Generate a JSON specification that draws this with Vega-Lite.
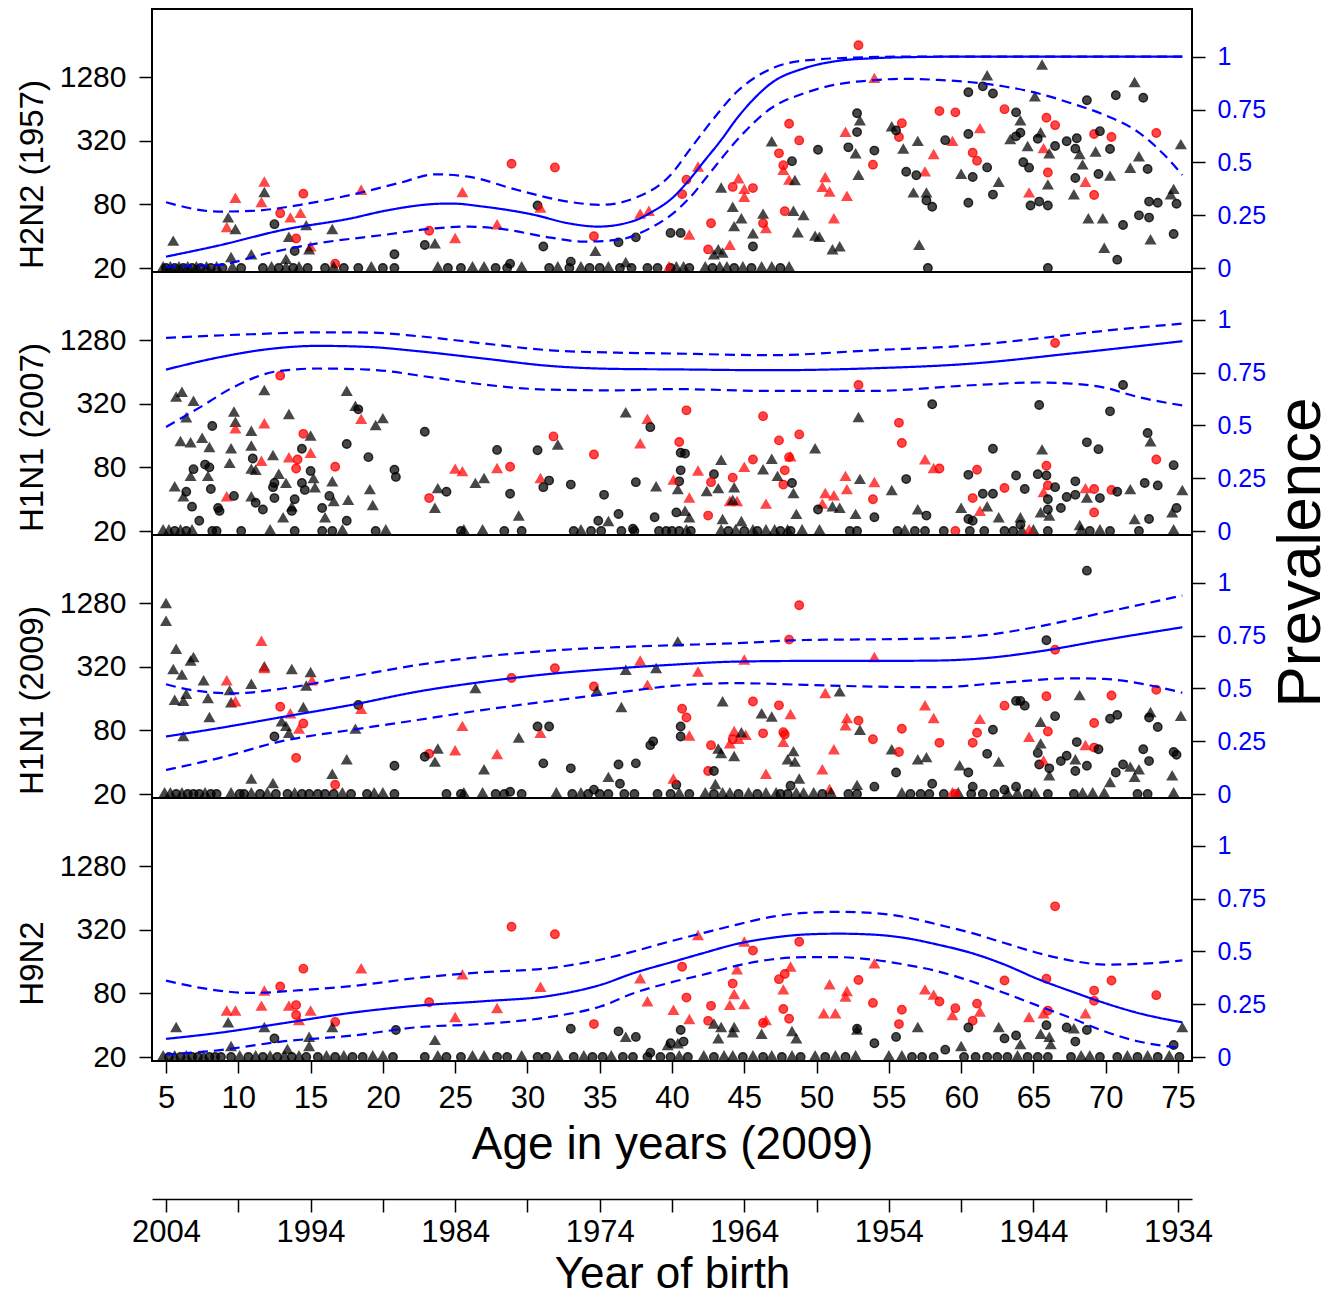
{
"$schema":"https://vega.github.io/schema/vega-lite/v6.json",
"background":"white",
"padding":{"left":15,"top":8,"right":5,"bottom":6},
"bounds":"flush",
"spacing":0,
"config":{
 "font":"Liberation Sans",
 "view":{"stroke":"black","strokeWidth":2},
 "axis":{"grid":false,"domain":false,"tickColor":"black","tickWidth":1.5,"tickSize":13,"labelColor":"black","titleColor":"black","titleFontWeight":"normal","labelOverlap":false,"labelFlush":false,"labelFont":"Liberation Sans","titleFont":"Liberation Sans"}
},
"datasets":{
"pts":[
{"p":1,"a":5.5,"v":35,"g":"kt"},{"p":1,"a":9.8,"v":89,"g":"rt"},{"p":1,"a":11.8,"v":127,"g":"rt"},{"p":1,"a":11.8,"v":101,"g":"kt"},{"p":1,"a":11.6,"v":81,"g":"rt"},{"p":1,"a":9.3,"v":58,"g":"kt"},{"p":1,"a":9.2,"v":47,"g":"rt"},{"p":1,"a":9.8,"v":45,"g":"kt"},{"p":1,"a":12.9,"v":66,"g":"rc"},{"p":1,"a":14.5,"v":101,"g":"rc"},{"p":1,"a":13.6,"v":58,"g":"rt"},{"p":1,"a":14.3,"v":64,"g":"rt"},{"p":1,"a":12.5,"v":52,"g":"kc"},{"p":1,"a":14.7,"v":49,"g":"kt"},{"p":1,"a":13.5,"v":38,"g":"kt"},{"p":1,"a":14.0,"v":38,"g":"rc"},{"p":1,"a":13.9,"v":29,"g":"kc"},{"p":1,"a":15.0,"v":31,"g":"rt"},{"p":1,"a":14.9,"v":29,"g":"kt"},{"p":1,"a":16.5,"v":45,"g":"kt"},{"p":1,"a":18.5,"v":106,"g":"rt"},{"p":1,"a":16.7,"v":22,"g":"rc"},{"p":1,"a":20.8,"v":27,"g":"kc"},{"p":1,"a":9.5,"v":24.5,"g":"kt"},{"p":1,"a":10.9,"v":26,"g":"kt"},{"p":1,"a":13.3,"v":23.5,"g":"kt"},{"p":1,"a":23.2,"v":45,"g":"rc"},{"p":1,"a":22.9,"v":33,"g":"kc"},{"p":1,"a":23.6,"v":33,"g":"kt"},{"p":1,"a":25.5,"v":101,"g":"rt"},{"p":1,"a":25.0,"v":37,"g":"rt"},{"p":1,"a":28.9,"v":194,"g":"rc"},{"p":1,"a":31.9,"v":179,"g":"rc"},{"p":1,"a":30.7,"v":78,"g":"kc"},{"p":1,"a":30.9,"v":72,"g":"rt"},{"p":1,"a":27.9,"v":50,"g":"rt"},{"p":1,"a":31.1,"v":32,"g":"kc"},{"p":1,"a":28.8,"v":22,"g":"kc"},{"p":1,"a":33.0,"v":23,"g":"kc"},{"p":1,"a":34.6,"v":40,"g":"rc"},{"p":1,"a":34.7,"v":28,"g":"kt"},{"p":1,"a":36.8,"v":22,"g":"kt"},{"p":1,"a":36.3,"v":35,"g":"kc"},{"p":1,"a":37.5,"v":39,"g":"kc"},{"p":1,"a":37.8,"v":63,"g":"rt"},{"p":1,"a":38.4,"v":67,"g":"rt"},{"p":1,"a":39.9,"v":43,"g":"kc"},
{"p":1,"a":52.9,"v":2560,"g":"rc"},{"p":1,"a":54.0,"v":1210,"g":"rt"},{"p":1,"a":61.8,"v":1280,"g":"kt"},{"p":1,"a":61.5,"v":1045,"g":"kc"},{"p":1,"a":60.5,"v":918,"g":"kc"},{"p":1,"a":62.2,"v":893,"g":"kc"},{"p":1,"a":65.6,"v":1620,"g":"kt"},{"p":1,"a":65.1,"v":810,"g":"kt"},{"p":1,"a":68.7,"v":772,"g":"kc"},{"p":1,"a":70.7,"v":862,"g":"kc"},{"p":1,"a":72.0,"v":1107,"g":"kt"},{"p":1,"a":72.6,"v":816,"g":"kc"},{"p":1,"a":58.5,"v":610,"g":"rc"},{"p":1,"a":59.6,"v":593,"g":"rc"},{"p":1,"a":63.0,"v":636,"g":"rc"},{"p":1,"a":63.8,"v":593,"g":"kc"},{"p":1,"a":64.1,"v":481,"g":"kt"},{"p":1,"a":64.1,"v":381,"g":"kc"},{"p":1,"a":63.8,"v":352,"g":"kc"},{"p":1,"a":63.4,"v":320,"g":"kt"},{"p":1,"a":65.5,"v":370,"g":"kt"},{"p":1,"a":65.9,"v":527,"g":"rc"},{"p":1,"a":66.5,"v":449,"g":"rc"},{"p":1,"a":65.3,"v":334,"g":"kc"},{"p":1,"a":66.5,"v":285,"g":"kc"},{"p":1,"a":65.7,"v":262,"g":"rt"},{"p":1,"a":66.1,"v":234,"g":"kt"},{"p":1,"a":64.6,"v":275,"g":"kt"},{"p":1,"a":69.2,"v":370,"g":"rc"},{"p":1,"a":69.6,"v":394,"g":"kc"},{"p":1,"a":70.4,"v":347,"g":"rc"},{"p":1,"a":67.3,"v":316,"g":"kc"},{"p":1,"a":68.0,"v":338,"g":"kc"},{"p":1,"a":67.9,"v":269,"g":"kc"},{"p":1,"a":68.2,"v":231,"g":"kt"},{"p":1,"a":69.3,"v":244,"g":"kt"},{"p":1,"a":70.3,"v":267,"g":"kc"},{"p":1,"a":73.5,"v":378,"g":"rc"},{"p":1,"a":75.2,"v":286,"g":"kt"},{"p":1,"a":72.3,"v":220,"g":"kt"},{"p":1,"a":71.7,"v":171,"g":"kt"},{"p":1,"a":72.9,"v":173,"g":"kc"},{"p":1,"a":68.4,"v":184,"g":"kt"},{"p":1,"a":69.5,"v":155,"g":"kc"},{"p":1,"a":70.3,"v":144,"g":"kt"},{"p":1,"a":67.9,"v":142,"g":"kc"},{"p":1,"a":68.6,"v":126,"g":"rt"},{"p":1,"a":69.2,"v":98,"g":"rc"},{"p":1,"a":67.8,"v":96,"g":"kt"},{"p":1,"a":74.7,"v":108,"g":"kt"},{"p":1,"a":74.5,"v":96,"g":"kt"},{"p":1,"a":74.9,"v":81,"g":"kc"},{"p":1,"a":73.0,"v":85,"g":"kc"},{"p":1,"a":73.6,"v":83,"g":"kc"},{"p":1,"a":68.8,"v":57,"g":"kt"},{"p":1,"a":69.8,"v":57,"g":"kt"},{"p":1,"a":72.3,"v":63,"g":"kc"},{"p":1,"a":73.0,"v":60,"g":"kc"},{"p":1,"a":71.2,"v":51,"g":"kc"},{"p":1,"a":73.1,"v":36,"g":"kt"},{"p":1,"a":69.9,"v":30,"g":"kt"},{"p":1,"a":70.8,"v":24,"g":"kc"},{"p":1,"a":74.7,"v":42,"g":"kc"},{"p":1,"a":57.1,"v":32,"g":"kt"},{"p":1,"a":66.0,"v":160,"g":"rc"},{"p":1,"a":66.0,"v":119,"g":"kt"},{"p":1,"a":64.7,"v":100,"g":"rt"},{"p":1,"a":64.8,"v":78,"g":"kc"},{"p":1,"a":65.4,"v":85,"g":"kc"},{"p":1,"a":66.0,"v":78,"g":"kc"},{"p":1,"a":64.3,"v":200,"g":"kc"},{"p":1,"a":64.7,"v":178,"g":"kc"},{"p":1,"a":62.2,"v":99,"g":"kc"},{"p":1,"a":62.6,"v":126,"g":"kt"},{"p":1,"a":60.8,"v":145,"g":"kc"},{"p":1,"a":60.0,"v":150,"g":"kt"},{"p":1,"a":61.8,"v":179,"g":"kc"},{"p":1,"a":60.5,"v":83,"g":"kc"},{"p":1,"a":60.8,"v":246,"g":"rc"},{"p":1,"a":61.1,"v":207,"g":"rc"},{"p":1,"a":61.3,"v":405,"g":"rt"},{"p":1,"a":60.5,"v":370,"g":"kc"},{"p":1,"a":59.4,"v":307,"g":"rt"},{"p":1,"a":58.9,"v":324,"g":"kc"},{"p":1,"a":57.0,"v":307,"g":"kt"},{"p":1,"a":58.1,"v":231,"g":"rt"},{"p":1,"a":57.5,"v":158,"g":"rt"},{"p":1,"a":56.2,"v":163,"g":"kc"},{"p":1,"a":56.9,"v":151,"g":"kc"},{"p":1,"a":56.7,"v":100,"g":"kt"},{"p":1,"a":57.6,"v":100,"g":"kt"},{"p":1,"a":57.6,"v":87,"g":"kc"},{"p":1,"a":58.0,"v":76,"g":"kc"},{"p":1,"a":56.0,"v":260,"g":"kt"},{"p":1,"a":55.9,"v":469,"g":"rc"},{"p":1,"a":55.7,"v":347,"g":"rc"},{"p":1,"a":55.2,"v":422,"g":"kt"},{"p":1,"a":55.5,"v":400,"g":"kc"},{"p":1,"a":54.0,"v":258,"g":"kc"},{"p":1,"a":53.9,"v":190,"g":"rc"},{"p":1,"a":52.9,"v":147,"g":"kt"},{"p":1,"a":52.7,"v":234,"g":"kt"},{"p":1,"a":52.2,"v":277,"g":"kc"},{"p":1,"a":52.8,"v":386,"g":"kc"},{"p":1,"a":53.0,"v":481,"g":"kt"},{"p":1,"a":52.8,"v":581,"g":"kc"},{"p":1,"a":52.0,"v":375,"g":"rt"},{"p":1,"a":50.1,"v":263,"g":"kc"},{"p":1,"a":50.6,"v":140,"g":"rt"},{"p":1,"a":50.4,"v":113,"g":"rt"},{"p":1,"a":50.9,"v":102,"g":"rt"},{"p":1,"a":52.1,"v":93,"g":"rt"},{"p":1,"a":51.2,"v":57,"g":"rt"},{"p":1,"a":51.1,"v":29,"g":"kt"},{"p":1,"a":51.6,"v":31,"g":"kt"},{"p":1,"a":48.3,"v":205,"g":"kc"},{"p":1,"a":48.1,"v":463,"g":"rc"},{"p":1,"a":48.8,"v":322,"g":"rc"},{"p":1,"a":47.4,"v":243,"g":"rc"},{"p":1,"a":47.7,"v":188,"g":"rc"},{"p":1,"a":47.7,"v":164,"g":"rt"},{"p":1,"a":48.1,"v":132,"g":"rt"},{"p":1,"a":48.5,"v":131,"g":"kt"},{"p":1,"a":47.8,"v":69,"g":"rc"},{"p":1,"a":48.4,"v":67,"g":"kt"},{"p":1,"a":49.1,"v":61,"g":"kt"},{"p":1,"a":48.7,"v":42,"g":"kt"},{"p":1,"a":49.9,"v":39,"g":"kt"},{"p":1,"a":50.2,"v":38,"g":"kt"},{"p":1,"a":46.9,"v":305,"g":"kt"},{"p":1,"a":45.6,"v":114,"g":"rc"},{"p":1,"a":44.6,"v":136,"g":"rt"},{"p":1,"a":44.2,"v":117,"g":"rc"},{"p":1,"a":45.0,"v":108,"g":"rt"},{"p":1,"a":45.0,"v":91,"g":"rt"},{"p":1,"a":43.4,"v":111,"g":"kt"},{"p":1,"a":44.2,"v":73,"g":"kt"},{"p":1,"a":44.8,"v":57,"g":"kt"},{"p":1,"a":44.3,"v":48,"g":"kt"},{"p":1,"a":46.3,"v":53,"g":"rc"},{"p":1,"a":46.5,"v":46,"g":"rt"},{"p":1,"a":46.3,"v":63,"g":"kt"},{"p":1,"a":45.6,"v":41,"g":"kt"},{"p":1,"a":45.6,"v":32,"g":"kc"},{"p":1,"a":42.7,"v":53,"g":"rc"},{"p":1,"a":44.0,"v":32,"g":"rt"},{"p":1,"a":42.5,"v":30,"g":"rc"},{"p":1,"a":40.6,"v":43,"g":"kc"},{"p":1,"a":41.2,"v":40,"g":"rt"},{"p":1,"a":43.2,"v":29,"g":"kt"},{"p":1,"a":42.9,"v":26,"g":"kt"},{"p":1,"a":43.5,"v":27,"g":"kt"},{"p":1,"a":40.7,"v":100,"g":"rc"},{"p":1,"a":41.0,"v":137,"g":"rc"},{"p":1,"a":41.8,"v":176,"g":"rt"},
{"p":1,"a":4.8,"v":20,"g":"kt"},{"p":1,"a":5.0,"v":20,"g":"kc"},{"p":1,"a":5.3,"v":20,"g":"kt"},{"p":1,"a":5.6,"v":20,"g":"kc"},{"p":1,"a":5.9,"v":20,"g":"kt"},{"p":1,"a":6.2,"v":20,"g":"kc"},{"p":1,"a":6.5,"v":20,"g":"kt"},{"p":1,"a":6.8,"v":20,"g":"kc"},{"p":1,"a":7.1,"v":20,"g":"kt"},{"p":1,"a":7.4,"v":20,"g":"kc"},{"p":1,"a":7.8,"v":20,"g":"kt"},{"p":1,"a":8.1,"v":20,"g":"kc"},{"p":1,"a":8.5,"v":20,"g":"kt"},{"p":1,"a":8.9,"v":20,"g":"kc"},{"p":1,"a":9.6,"v":20,"g":"kt"},{"p":1,"a":10.2,"v":20,"g":"kc"},{"p":1,"a":11.7,"v":20,"g":"kc"},{"p":1,"a":12.3,"v":20,"g":"kt"},{"p":1,"a":12.8,"v":20,"g":"kc"},{"p":1,"a":13.3,"v":20,"g":"kt"},{"p":1,"a":13.8,"v":20,"g":"kc"},{"p":1,"a":14.2,"v":20,"g":"kt"},{"p":1,"a":14.8,"v":20,"g":"kc"},{"p":1,"a":16.0,"v":20,"g":"kc"},{"p":1,"a":16.6,"v":20,"g":"kt"},{"p":1,"a":17.3,"v":20,"g":"kc"},{"p":1,"a":18.3,"v":20,"g":"kc"},{"p":1,"a":19.2,"v":20,"g":"kt"},{"p":1,"a":20.0,"v":20,"g":"kc"},{"p":1,"a":20.8,"v":20,"g":"kc"},{"p":1,"a":23.8,"v":20,"g":"kt"},{"p":1,"a":24.5,"v":20,"g":"kc"},{"p":1,"a":25.4,"v":20,"g":"kc"},{"p":1,"a":26.2,"v":20,"g":"kt"},{"p":1,"a":27.0,"v":20,"g":"kt"},{"p":1,"a":27.8,"v":20,"g":"kc"},{"p":1,"a":28.6,"v":20,"g":"kc"},{"p":1,"a":29.6,"v":20,"g":"kt"},{"p":1,"a":31.5,"v":20,"g":"kc"},{"p":1,"a":32.1,"v":20,"g":"kt"},{"p":1,"a":32.9,"v":20,"g":"kc"},{"p":1,"a":33.7,"v":20,"g":"kt"},{"p":1,"a":34.3,"v":20,"g":"kc"},{"p":1,"a":35.0,"v":20,"g":"kc"},{"p":1,"a":35.6,"v":20,"g":"kt"},{"p":1,"a":36.4,"v":20,"g":"kc"},{"p":1,"a":37.2,"v":20,"g":"kc"},{"p":1,"a":38.3,"v":20,"g":"kc"},{"p":1,"a":39.0,"v":20,"g":"kc"},{"p":1,"a":39.9,"v":20,"g":"kc"},{"p":1,"a":39.8,"v":20,"g":"rt"},{"p":1,"a":40.3,"v":20,"g":"kt"},{"p":1,"a":40.8,"v":20,"g":"kt"},{"p":1,"a":41.2,"v":20,"g":"kc"},{"p":1,"a":42.3,"v":20,"g":"kt"},{"p":1,"a":42.8,"v":20,"g":"kc"},{"p":1,"a":43.3,"v":20,"g":"kt"},{"p":1,"a":43.8,"v":20,"g":"kt"},{"p":1,"a":44.3,"v":20,"g":"kc"},{"p":1,"a":44.9,"v":20,"g":"kt"},{"p":1,"a":45.5,"v":20,"g":"kc"},{"p":1,"a":46.2,"v":20,"g":"kt"},{"p":1,"a":46.9,"v":20,"g":"kt"},{"p":1,"a":47.5,"v":20,"g":"kc"},{"p":1,"a":48.1,"v":20,"g":"kt"},{"p":1,"a":57.7,"v":20,"g":"kc"},{"p":1,"a":66.0,"v":20,"g":"kc"},
{"p":2,"a":12.9,"v":589,"g":"rc"},{"p":2,"a":6.1,"v":400,"g":"kt"},{"p":2,"a":5.7,"v":360,"g":"kt"},{"p":2,"a":6.9,"v":329,"g":"kt"},{"p":2,"a":11.8,"v":416,"g":"kt"},{"p":2,"a":17.5,"v":408,"g":"kt"},{"p":2,"a":18.1,"v":295,"g":"kt"},{"p":2,"a":18.3,"v":283,"g":"kc"},{"p":2,"a":9.7,"v":260,"g":"kt"},{"p":2,"a":6.4,"v":229,"g":"kt"},{"p":2,"a":9.8,"v":208,"g":"kt"},{"p":2,"a":11.8,"v":201,"g":"rt"},{"p":2,"a":9.8,"v":180,"g":"rt"},{"p":2,"a":13.5,"v":246,"g":"kt"},{"p":2,"a":8.2,"v":197,"g":"kc"},{"p":2,"a":10.9,"v":171,"g":"kt"},{"p":2,"a":18.5,"v":222,"g":"rt"},{"p":2,"a":20.0,"v":225,"g":"kt"},{"p":2,"a":19.5,"v":194,"g":"kt"},{"p":2,"a":22.9,"v":174,"g":"kc"},{"p":2,"a":14.5,"v":166,"g":"rc"},{"p":2,"a":15.0,"v":154,"g":"kt"},{"p":2,"a":17.5,"v":133,"g":"kc"},{"p":2,"a":6.0,"v":137,"g":"kt"},{"p":2,"a":6.7,"v":133,"g":"kt"},{"p":2,"a":7.5,"v":147,"g":"kt"},{"p":2,"a":8.0,"v":120,"g":"kt"},{"p":2,"a":9.5,"v":117,"g":"kt"},{"p":2,"a":10.9,"v":124,"g":"kt"},{"p":2,"a":14.4,"v":120,"g":"kc"},{"p":2,"a":15.0,"v":106,"g":"rt"},{"p":2,"a":12.4,"v":101,"g":"kt"},{"p":2,"a":13.5,"v":96,"g":"rt"},{"p":2,"a":14.1,"v":95,"g":"rc"},{"p":2,"a":11.6,"v":89,"g":"rt"},{"p":2,"a":14.0,"v":78,"g":"rc"},{"p":2,"a":11.0,"v":97,"g":"kc"},{"p":2,"a":9.4,"v":85,"g":"kt"},{"p":2,"a":7.7,"v":85,"g":"kc"},{"p":2,"a":8.0,"v":80,"g":"kc"},{"p":2,"a":6.9,"v":77,"g":"kc"},{"p":2,"a":10.9,"v":75,"g":"kt"},{"p":2,"a":11.2,"v":73,"g":"kt"},{"p":2,"a":15.0,"v":74,"g":"kc"},{"p":2,"a":12.8,"v":67,"g":"kt"},{"p":2,"a":6.7,"v":64,"g":"kt"},{"p":2,"a":7.9,"v":64,"g":"kt"},{"p":2,"a":12.5,"v":57,"g":"kc"},{"p":2,"a":13.3,"v":55,"g":"kt"},{"p":2,"a":14.4,"v":57,"g":"kc"},{"p":2,"a":15.2,"v":61,"g":"kt"},{"p":2,"a":16.5,"v":57,"g":"kt"},{"p":2,"a":12.4,"v":52,"g":"kc"},{"p":2,"a":14.6,"v":49,"g":"kc"},{"p":2,"a":15.3,"v":50,"g":"kt"},{"p":2,"a":8.1,"v":50,"g":"kc"},{"p":2,"a":6.4,"v":47,"g":"kc"},{"p":2,"a":5.6,"v":51,"g":"kt"},{"p":2,"a":6.2,"v":41,"g":"kt"},{"p":2,"a":9.2,"v":41,"g":"rt"},{"p":2,"a":9.7,"v":43,"g":"kc"},{"p":2,"a":10.9,"v":41,"g":"kt"},{"p":2,"a":11.2,"v":37,"g":"kc"},{"p":2,"a":12.5,"v":41,"g":"kc"},{"p":2,"a":13.9,"v":40,"g":"kc"},{"p":2,"a":11.7,"v":32,"g":"kc"},{"p":2,"a":6.8,"v":34,"g":"kc"},{"p":2,"a":8.6,"v":33,"g":"kc"},{"p":2,"a":8.7,"v":31,"g":"kc"},{"p":2,"a":13.7,"v":33,"g":"kt"},{"p":2,"a":13.7,"v":31,"g":"kc"},{"p":2,"a":13.1,"v":26,"g":"kt"},{"p":2,"a":7.3,"v":25,"g":"kc"},{"p":2,"a":16.3,"v":43,"g":"kc"},{"p":2,"a":16.6,"v":37,"g":"kt"},{"p":2,"a":17.6,"v":38,"g":"kt"},{"p":2,"a":15.8,"v":33,"g":"kc"},{"p":2,"a":16.0,"v":26,"g":"kt"},{"p":2,"a":17.5,"v":25,"g":"kc"},{"p":2,"a":16.7,"v":81,"g":"rc"},{"p":2,"a":19.0,"v":100,"g":"kc"},{"p":2,"a":20.8,"v":76,"g":"kc"},{"p":2,"a":20.9,"v":65,"g":"kc"},{"p":2,"a":19.1,"v":48,"g":"kt"},{"p":2,"a":19.3,"v":34,"g":"kt"},{"p":2,"a":23.8,"v":49,"g":"kt"},{"p":2,"a":24.4,"v":47,"g":"kc"},{"p":2,"a":23.2,"v":41,"g":"rc"},{"p":2,"a":23.6,"v":32,"g":"kt"},{"p":2,"a":25.0,"v":75,"g":"rt"},{"p":2,"a":25.5,"v":71,"g":"rt"},{"p":2,"a":26.4,"v":55,"g":"kt"},{"p":2,"a":27.0,"v":61,"g":"kt"},{"p":2,"a":27.9,"v":76,"g":"rt"},{"p":2,"a":28.8,"v":81,"g":"rc"},{"p":2,"a":27.9,"v":117,"g":"kc"},{"p":2,"a":28.8,"v":45,"g":"kc"},{"p":2,"a":29.4,"v":27,"g":"kt"},{"p":2,"a":31.8,"v":157,"g":"rc"},{"p":2,"a":32.1,"v":127,"g":"kt"},{"p":2,"a":30.7,"v":116,"g":"kc"},{"p":2,"a":30.9,"v":61,"g":"rt"},{"p":2,"a":31.5,"v":60,"g":"kc"},{"p":2,"a":31.1,"v":52,"g":"kc"},{"p":2,"a":33.0,"v":55,"g":"kc"},{"p":2,"a":34.6,"v":106,"g":"rc"},{"p":2,"a":35.3,"v":44,"g":"kc"},{"p":2,"a":36.3,"v":29,"g":"kc"},{"p":2,"a":35.6,"v":24,"g":"kt"},{"p":2,"a":34.9,"v":25,"g":"kc"},{"p":2,"a":36.8,"v":256,"g":"kt"},{"p":2,"a":38.3,"v":222,"g":"rt"},{"p":2,"a":38.5,"v":192,"g":"kc"},{"p":2,"a":37.8,"v":130,"g":"rt"},{"p":2,"a":40.5,"v":139,"g":"rc"},{"p":2,"a":37.5,"v":58,"g":"kc"},{"p":2,"a":38.9,"v":51,"g":"kt"},{"p":2,"a":38.8,"v":27,"g":"kc"},{"p":2,"a":37.3,"v":21,"g":"kc"},
{"p":2,"a":66.5,"v":1200,"g":"rc"},{"p":2,"a":52.9,"v":481,"g":"rc"},{"p":2,"a":71.2,"v":481,"g":"kc"},{"p":2,"a":58.0,"v":316,"g":"kc"},{"p":2,"a":65.4,"v":311,"g":"kc"},{"p":2,"a":70.3,"v":271,"g":"kc"},{"p":2,"a":41.0,"v":277,"g":"rc"},{"p":2,"a":46.3,"v":244,"g":"rc"},{"p":2,"a":55.7,"v":211,"g":"rc"},{"p":2,"a":55.9,"v":136,"g":"rc"},{"p":2,"a":52.9,"v":231,"g":"kt"},{"p":2,"a":48.8,"v":164,"g":"rc"},{"p":2,"a":47.4,"v":144,"g":"rc"},{"p":2,"a":49.9,"v":117,"g":"kt"},{"p":2,"a":72.9,"v":169,"g":"kc"},{"p":2,"a":73.1,"v":136,"g":"kt"},{"p":2,"a":68.7,"v":138,"g":"kc"},{"p":2,"a":69.5,"v":119,"g":"kc"},{"p":2,"a":62.2,"v":120,"g":"kc"},{"p":2,"a":65.6,"v":114,"g":"kt"},{"p":2,"a":40.6,"v":110,"g":"kc"},{"p":2,"a":40.9,"v":108,"g":"kc"},{"p":2,"a":43.4,"v":91,"g":"kt"},{"p":2,"a":45.6,"v":95,"g":"rc"},{"p":2,"a":46.9,"v":93,"g":"kt"},{"p":2,"a":48.1,"v":100,"g":"rc"},{"p":2,"a":48.2,"v":98,"g":"rt"},{"p":2,"a":46.3,"v":74,"g":"kt"},{"p":2,"a":45.0,"v":78,"g":"rt"},{"p":2,"a":41.8,"v":72,"g":"rt"},{"p":2,"a":40.6,"v":75,"g":"kc"},{"p":2,"a":42.9,"v":69,"g":"kc"},{"p":2,"a":47.8,"v":75,"g":"rc"},{"p":2,"a":47.7,"v":55,"g":"rc"},{"p":2,"a":44.2,"v":64,"g":"rc"},{"p":2,"a":42.7,"v":58,"g":"rc"},{"p":2,"a":40.5,"v":59,"g":"kc"},{"p":2,"a":47.3,"v":64,"g":"kt"},{"p":2,"a":48.3,"v":57,"g":"kc"},{"p":2,"a":48.4,"v":44,"g":"kt"},{"p":2,"a":43.2,"v":49,"g":"kt"},{"p":2,"a":42.4,"v":46,"g":"kt"},{"p":2,"a":44.3,"v":50,"g":"kt"},{"p":2,"a":40.4,"v":48,"g":"kt"},{"p":2,"a":40.1,"v":59,"g":"rt"},{"p":2,"a":41.2,"v":40,"g":"rt"},{"p":2,"a":44.0,"v":37,"g":"rt"},{"p":2,"a":44.5,"v":37,"g":"rt"},{"p":2,"a":44.2,"v":38,"g":"kt"},{"p":2,"a":46.5,"v":35,"g":"rt"},{"p":2,"a":42.5,"v":28,"g":"rc"},{"p":2,"a":40.3,"v":30,"g":"kc"},{"p":2,"a":40.9,"v":30,"g":"kt"},{"p":2,"a":41.2,"v":26,"g":"kt"},{"p":2,"a":43.5,"v":25,"g":"kt"},{"p":2,"a":44.8,"v":24,"g":"kt"},{"p":2,"a":48.6,"v":28,"g":"kt"},{"p":2,"a":52.0,"v":64,"g":"rt"},{"p":2,"a":52.1,"v":48,"g":"rt"},{"p":2,"a":53.0,"v":60,"g":"kt"},{"p":2,"a":54.0,"v":56,"g":"rt"},{"p":2,"a":50.6,"v":44,"g":"rt"},{"p":2,"a":51.2,"v":42,"g":"rt"},{"p":2,"a":50.4,"v":35,"g":"rt"},{"p":2,"a":51.1,"v":33,"g":"kt"},{"p":2,"a":51.6,"v":32,"g":"kt"},{"p":2,"a":50.1,"v":32,"g":"kc"},{"p":2,"a":52.7,"v":28,"g":"kt"},{"p":2,"a":53.9,"v":40,"g":"rc"},{"p":2,"a":54.0,"v":27,"g":"kc"},{"p":2,"a":55.2,"v":47,"g":"kt"},{"p":2,"a":56.2,"v":62,"g":"kc"},{"p":2,"a":57.5,"v":92,"g":"rt"},{"p":2,"a":58.1,"v":76,"g":"rt"},{"p":2,"a":58.5,"v":78,"g":"rc"},{"p":2,"a":57.0,"v":31,"g":"kt"},{"p":2,"a":57.6,"v":28,"g":"kc"},{"p":2,"a":60.5,"v":68,"g":"kc"},{"p":2,"a":61.1,"v":76,"g":"rc"},{"p":2,"a":60.8,"v":41,"g":"rc"},{"p":2,"a":61.5,"v":45,"g":"kc"},{"p":2,"a":62.2,"v":45,"g":"kc"},{"p":2,"a":60.0,"v":32,"g":"kt"},{"p":2,"a":61.8,"v":33,"g":"kt"},{"p":2,"a":61.3,"v":30,"g":"rt"},{"p":2,"a":60.5,"v":26,"g":"kc"},{"p":2,"a":60.8,"v":25,"g":"kc"},{"p":2,"a":62.6,"v":26,"g":"kt"},{"p":2,"a":63.0,"v":51,"g":"rc"},{"p":2,"a":63.8,"v":67,"g":"kc"},{"p":2,"a":64.4,"v":50,"g":"kc"},{"p":2,"a":65.3,"v":69,"g":"kc"},{"p":2,"a":65.9,"v":67,"g":"kc"},{"p":2,"a":65.9,"v":83,"g":"rc"},{"p":2,"a":66.0,"v":54,"g":"rc"},{"p":2,"a":66.5,"v":52,"g":"kc"},{"p":2,"a":65.7,"v":45,"g":"rt"},{"p":2,"a":66.0,"v":40,"g":"kc"},{"p":2,"a":66.0,"v":32,"g":"kc"},{"p":2,"a":66.9,"v":33,"g":"kc"},{"p":2,"a":65.5,"v":29,"g":"kt"},{"p":2,"a":66.1,"v":27,"g":"kt"},{"p":2,"a":64.1,"v":26,"g":"kt"},{"p":2,"a":64.1,"v":23,"g":"kc"},{"p":2,"a":67.3,"v":42,"g":"kc"},{"p":2,"a":67.9,"v":59,"g":"kc"},{"p":2,"a":67.9,"v":44,"g":"kc"},{"p":2,"a":68.6,"v":49,"g":"rt"},{"p":2,"a":69.2,"v":50,"g":"rc"},{"p":2,"a":68.7,"v":40,"g":"kt"},{"p":2,"a":69.6,"v":41,"g":"kc"},{"p":2,"a":69.2,"v":30,"g":"rc"},{"p":2,"a":70.4,"v":49,"g":"rc"},{"p":2,"a":70.8,"v":47,"g":"kc"},{"p":2,"a":71.7,"v":48,"g":"kt"},{"p":2,"a":72.7,"v":57,"g":"kc"},{"p":2,"a":73.6,"v":54,"g":"kc"},{"p":2,"a":73.5,"v":95,"g":"rc"},{"p":2,"a":74.7,"v":84,"g":"kc"},{"p":2,"a":75.3,"v":47,"g":"kt"},{"p":2,"a":74.9,"v":33,"g":"kc"},{"p":2,"a":74.6,"v":29,"g":"kt"},{"p":2,"a":73.0,"v":26,"g":"kc"},{"p":2,"a":72.0,"v":25,"g":"kt"},{"p":2,"a":68.2,"v":22,"g":"kt"},
{"p":2,"a":4.8,"v":20,"g":"kt"},{"p":2,"a":5.2,"v":20,"g":"kt"},{"p":2,"a":5.6,"v":20,"g":"kc"},{"p":2,"a":6.0,"v":20,"g":"kt"},{"p":2,"a":6.4,"v":20,"g":"kc"},{"p":2,"a":6.8,"v":20,"g":"kt"},{"p":2,"a":8.2,"v":20,"g":"kc"},{"p":2,"a":8.5,"v":20,"g":"kc"},{"p":2,"a":10.2,"v":20,"g":"kc"},{"p":2,"a":12.2,"v":20,"g":"kt"},{"p":2,"a":13.9,"v":20,"g":"kc"},{"p":2,"a":15.8,"v":20,"g":"kc"},{"p":2,"a":16.5,"v":20,"g":"kc"},{"p":2,"a":17.2,"v":20,"g":"kt"},{"p":2,"a":19.5,"v":20,"g":"kc"},{"p":2,"a":20.2,"v":20,"g":"kt"},{"p":2,"a":25.4,"v":20,"g":"kc"},{"p":2,"a":25.6,"v":20,"g":"kt"},{"p":2,"a":26.9,"v":20,"g":"kt"},{"p":2,"a":28.4,"v":20,"g":"kc"},{"p":2,"a":29.6,"v":20,"g":"kc"},{"p":2,"a":33.2,"v":20,"g":"kc"},{"p":2,"a":33.7,"v":20,"g":"kt"},{"p":2,"a":34.4,"v":20,"g":"kc"},{"p":2,"a":35.1,"v":20,"g":"kc"},{"p":2,"a":36.5,"v":20,"g":"kc"},{"p":2,"a":37.4,"v":20,"g":"kc"},{"p":2,"a":39.1,"v":20,"g":"kc"},{"p":2,"a":39.6,"v":20,"g":"kc"},{"p":2,"a":40.0,"v":20,"g":"kc"},{"p":2,"a":40.5,"v":20,"g":"kc"},{"p":2,"a":41.0,"v":20,"g":"kt"},{"p":2,"a":41.3,"v":20,"g":"kc"},{"p":2,"a":43.4,"v":20,"g":"kt"},{"p":2,"a":43.9,"v":20,"g":"kc"},{"p":2,"a":44.4,"v":20,"g":"kt"},{"p":2,"a":45.0,"v":20,"g":"kc"},{"p":2,"a":45.6,"v":20,"g":"kt"},{"p":2,"a":45.9,"v":20,"g":"kc"},{"p":2,"a":46.5,"v":20,"g":"kt"},{"p":2,"a":47.1,"v":20,"g":"kt"},{"p":2,"a":47.5,"v":20,"g":"kc"},{"p":2,"a":48.0,"v":20,"g":"kt"},{"p":2,"a":48.2,"v":20,"g":"kc"},{"p":2,"a":49.0,"v":20,"g":"kt"},{"p":2,"a":50.2,"v":20,"g":"kt"},{"p":2,"a":52.3,"v":20,"g":"kc"},{"p":2,"a":52.8,"v":20,"g":"kc"},{"p":2,"a":55.6,"v":20,"g":"kc"},{"p":2,"a":56.1,"v":20,"g":"kt"},{"p":2,"a":56.8,"v":20,"g":"kc"},{"p":2,"a":57.5,"v":20,"g":"kc"},{"p":2,"a":58.8,"v":20,"g":"kc"},{"p":2,"a":60.6,"v":20,"g":"kc"},{"p":2,"a":61.6,"v":20,"g":"kc"},{"p":2,"a":63.0,"v":20,"g":"kc"},{"p":2,"a":63.6,"v":20,"g":"kc"},{"p":2,"a":64.2,"v":20,"g":"kt"},{"p":2,"a":65.0,"v":20,"g":"kt"},{"p":2,"a":66.0,"v":20,"g":"kc"},{"p":2,"a":68.3,"v":20,"g":"kt"},{"p":2,"a":68.9,"v":20,"g":"kc"},{"p":2,"a":69.6,"v":20,"g":"kt"},{"p":2,"a":70.3,"v":20,"g":"kc"},{"p":2,"a":72.3,"v":20,"g":"kc"},{"p":2,"a":74.7,"v":20,"g":"kt"},{"p":2,"a":59.6,"v":20,"g":"rc"},{"p":2,"a":64.7,"v":20,"g":"rt"},
{"p":3,"a":5.0,"v":1235,"g":"kt"},{"p":3,"a":5.0,"v":839,"g":"kt"},{"p":3,"a":5.7,"v":456,"g":"kt"},{"p":3,"a":6.9,"v":381,"g":"kt"},{"p":3,"a":6.7,"v":352,"g":"kt"},{"p":3,"a":5.5,"v":293,"g":"kt"},{"p":3,"a":6.1,"v":260,"g":"kt"},{"p":3,"a":7.6,"v":229,"g":"kt"},{"p":3,"a":6.4,"v":171,"g":"kt"},{"p":3,"a":5.6,"v":150,"g":"kt"},{"p":3,"a":6.2,"v":147,"g":"kt"},{"p":3,"a":7.9,"v":156,"g":"kt"},{"p":3,"a":8.0,"v":103,"g":"kt"},{"p":3,"a":6.2,"v":68,"g":"kt"},{"p":3,"a":11.6,"v":542,"g":"rt"},{"p":3,"a":11.8,"v":311,"g":"kt"},{"p":3,"a":11.8,"v":300,"g":"rt"},{"p":3,"a":9.2,"v":229,"g":"rt"},{"p":3,"a":9.4,"v":185,"g":"kt"},{"p":3,"a":9.5,"v":142,"g":"kt"},{"p":3,"a":9.8,"v":145,"g":"rt"},{"p":3,"a":10.9,"v":213,"g":"kt"},{"p":3,"a":13.7,"v":293,"g":"kt"},{"p":3,"a":15.0,"v":275,"g":"kt"},{"p":3,"a":15.1,"v":229,"g":"rt"},{"p":3,"a":14.7,"v":205,"g":"kt"},{"p":3,"a":14.5,"v":128,"g":"kt"},{"p":3,"a":12.9,"v":134,"g":"rc"},{"p":3,"a":13.6,"v":112,"g":"rt"},{"p":3,"a":14.5,"v":93,"g":"rc"},{"p":3,"a":14.2,"v":80,"g":"rt"},{"p":3,"a":13.0,"v":94,"g":"kt"},{"p":3,"a":13.3,"v":85,"g":"kt"},{"p":3,"a":13.5,"v":73,"g":"kt"},{"p":3,"a":12.5,"v":70,"g":"kc"},{"p":3,"a":14.0,"v":44,"g":"rc"},{"p":3,"a":18.3,"v":139,"g":"kc"},{"p":3,"a":18.5,"v":123,"g":"rt"},{"p":3,"a":18.1,"v":80,"g":"kt"},{"p":3,"a":17.5,"v":41,"g":"kt"},{"p":3,"a":16.5,"v":30,"g":"kt"},{"p":3,"a":16.7,"v":24.5,"g":"rc"},{"p":3,"a":10.9,"v":27,"g":"kt"},{"p":3,"a":12.4,"v":24.5,"g":"kt"},{"p":3,"a":20.8,"v":37,"g":"kc"},{"p":3,"a":26.4,"v":194,"g":"kt"},{"p":3,"a":28.9,"v":250,"g":"rc"},{"p":3,"a":31.9,"v":309,"g":"rc"},{"p":3,"a":34.6,"v":208,"g":"rc"},{"p":3,"a":34.8,"v":183,"g":"kt"},{"p":3,"a":36.5,"v":128,"g":"kt"},{"p":3,"a":36.8,"v":288,"g":"kt"},{"p":3,"a":37.8,"v":352,"g":"rt"},{"p":3,"a":38.9,"v":300,"g":"kt"},{"p":3,"a":38.3,"v":208,"g":"rt"},{"p":3,"a":38.5,"v":58,"g":"kc"},{"p":3,"a":38.7,"v":63,"g":"kc"},{"p":3,"a":25.5,"v":85,"g":"rt"},{"p":3,"a":29.4,"v":66,"g":"kt"},{"p":3,"a":30.9,"v":73,"g":"rt"},{"p":3,"a":30.7,"v":87,"g":"kc"},{"p":3,"a":31.5,"v":87,"g":"kc"},{"p":3,"a":31.1,"v":39,"g":"kc"},{"p":3,"a":33.0,"v":35,"g":"kc"},{"p":3,"a":36.3,"v":38,"g":"kc"},{"p":3,"a":37.5,"v":39,"g":"kc"},{"p":3,"a":36.4,"v":25,"g":"kc"},{"p":3,"a":35.6,"v":28,"g":"kt"},{"p":3,"a":25.0,"v":50,"g":"rt"},{"p":3,"a":27.9,"v":46,"g":"rt"},{"p":3,"a":27.0,"v":33,"g":"kt"},{"p":3,"a":23.8,"v":52,"g":"kt"},{"p":3,"a":23.6,"v":39,"g":"kt"},{"p":3,"a":23.2,"v":48,"g":"rc"},{"p":3,"a":22.9,"v":45,"g":"kc"},{"p":3,"a":28.8,"v":21,"g":"kc"},{"p":3,"a":34.6,"v":22,"g":"kc"},
{"p":3,"a":68.7,"v":2590,"g":"kc"},{"p":3,"a":48.8,"v":1218,"g":"rc"},{"p":3,"a":40.4,"v":535,"g":"kt"},{"p":3,"a":48.1,"v":577,"g":"rc"},{"p":3,"a":65.9,"v":569,"g":"kc"},{"p":3,"a":66.5,"v":463,"g":"rc"},{"p":3,"a":45.0,"v":360,"g":"rt"},{"p":3,"a":54.0,"v":381,"g":"rt"},{"p":3,"a":41.8,"v":277,"g":"rt"},{"p":3,"a":73.5,"v":194,"g":"rc"},{"p":3,"a":50.6,"v":174,"g":"rt"},{"p":3,"a":51.6,"v":180,"g":"kt"},{"p":3,"a":43.5,"v":145,"g":"kt"},{"p":3,"a":45.6,"v":150,"g":"rc"},{"p":3,"a":47.4,"v":138,"g":"rc"},{"p":3,"a":40.7,"v":128,"g":"rc"},{"p":3,"a":41.0,"v":106,"g":"rc"},{"p":3,"a":46.2,"v":112,"g":"kt"},{"p":3,"a":46.9,"v":104,"g":"kt"},{"p":3,"a":48.2,"v":110,"g":"rt"},{"p":3,"a":57.5,"v":133,"g":"rt"},{"p":3,"a":58.1,"v":101,"g":"rt"},{"p":3,"a":52.1,"v":101,"g":"rt"},{"p":3,"a":52.9,"v":99,"g":"rc"},{"p":3,"a":52.0,"v":86,"g":"rt"},{"p":3,"a":53.0,"v":78,"g":"kt"},{"p":3,"a":53.9,"v":66,"g":"rc"},{"p":3,"a":55.9,"v":83,"g":"rc"},{"p":3,"a":58.5,"v":61,"g":"rc"},{"p":3,"a":61.3,"v":99,"g":"rt"},{"p":3,"a":61.1,"v":76,"g":"rc"},{"p":3,"a":60.8,"v":61,"g":"rc"},{"p":3,"a":62.2,"v":81,"g":"kc"},{"p":3,"a":63.0,"v":137,"g":"rc"},{"p":3,"a":63.8,"v":152,"g":"kc"},{"p":3,"a":64.1,"v":152,"g":"kc"},{"p":3,"a":64.4,"v":137,"g":"kc"},{"p":3,"a":65.9,"v":168,"g":"rc"},{"p":3,"a":68.2,"v":166,"g":"kt"},{"p":3,"a":70.4,"v":171,"g":"rc"},{"p":3,"a":66.5,"v":109,"g":"kc"},{"p":3,"a":65.5,"v":93,"g":"kt"},{"p":3,"a":66.0,"v":78,"g":"rc"},{"p":3,"a":69.2,"v":94,"g":"rc"},{"p":3,"a":70.3,"v":103,"g":"kc"},{"p":3,"a":70.8,"v":112,"g":"kc"},{"p":3,"a":73.1,"v":115,"g":"kt"},{"p":3,"a":73.0,"v":106,"g":"kc"},{"p":3,"a":73.6,"v":86,"g":"kc"},{"p":3,"a":75.2,"v":106,"g":"kt"},{"p":3,"a":64.7,"v":67,"g":"rt"},{"p":3,"a":65.5,"v":58,"g":"kt"},{"p":3,"a":68.0,"v":62,"g":"kc"},{"p":3,"a":68.6,"v":56,"g":"rt"},{"p":3,"a":69.2,"v":55,"g":"rc"},{"p":3,"a":69.5,"v":53,"g":"kc"},{"p":3,"a":72.6,"v":53,"g":"kc"},{"p":3,"a":73.0,"v":41,"g":"kc"},{"p":3,"a":74.7,"v":50,"g":"kc"},{"p":3,"a":74.9,"v":47,"g":"kc"},{"p":3,"a":65.3,"v":49,"g":"kc"},{"p":3,"a":65.4,"v":38,"g":"kc"},{"p":3,"a":65.7,"v":40,"g":"rt"},{"p":3,"a":66.1,"v":35,"g":"kc"},{"p":3,"a":66.1,"v":29,"g":"kt"},{"p":3,"a":66.9,"v":41,"g":"kc"},{"p":3,"a":67.3,"v":46,"g":"kc"},{"p":3,"a":67.9,"v":41,"g":"kt"},{"p":3,"a":67.9,"v":33,"g":"kc"},{"p":3,"a":68.7,"v":37,"g":"kc"},{"p":3,"a":70.7,"v":32,"g":"kc"},{"p":3,"a":71.2,"v":38,"g":"kc"},{"p":3,"a":71.7,"v":35,"g":"kt"},{"p":3,"a":72.3,"v":33,"g":"kt"},{"p":3,"a":72.0,"v":28,"g":"kt"},{"p":3,"a":70.3,"v":25,"g":"kt"},{"p":3,"a":74.6,"v":29,"g":"kt"},{"p":3,"a":63.8,"v":23.5,"g":"kc"},{"p":3,"a":63.0,"v":22,"g":"kc"},{"p":3,"a":62.6,"v":39,"g":"kt"},{"p":3,"a":61.8,"v":48,"g":"kc"},{"p":3,"a":59.9,"v":36,"g":"kt"},{"p":3,"a":60.5,"v":32,"g":"kc"},{"p":3,"a":60.8,"v":23.5,"g":"kc"},{"p":3,"a":57.0,"v":41,"g":"kt"},{"p":3,"a":57.6,"v":43,"g":"kt"},{"p":3,"a":58.0,"v":25,"g":"kc"},{"p":3,"a":55.5,"v":32,"g":"kc"},{"p":3,"a":55.2,"v":51,"g":"kt"},{"p":3,"a":55.7,"v":50,"g":"rc"},{"p":3,"a":54.0,"v":23.5,"g":"kc"},{"p":3,"a":52.8,"v":23.5,"g":"kt"},{"p":3,"a":51.2,"v":51,"g":"rt"},{"p":3,"a":50.4,"v":33,"g":"rt"},{"p":3,"a":50.9,"v":21.5,"g":"rt"},{"p":3,"a":48.8,"v":27,"g":"kt"},{"p":3,"a":48.2,"v":24,"g":"kc"},{"p":3,"a":48.4,"v":49,"g":"kt"},{"p":3,"a":48.0,"v":41,"g":"kt"},{"p":3,"a":48.5,"v":39,"g":"kt"},{"p":3,"a":47.7,"v":60,"g":"rt"},{"p":3,"a":47.7,"v":77,"g":"rc"},{"p":3,"a":47.8,"v":73,"g":"rc"},{"p":3,"a":46.3,"v":75,"g":"rc"},{"p":3,"a":46.5,"v":30,"g":"rt"},{"p":3,"a":44.3,"v":44,"g":"kt"},{"p":3,"a":43.4,"v":47,"g":"kt"},{"p":3,"a":43.2,"v":52,"g":"kt"},{"p":3,"a":44.0,"v":58,"g":"rt"},{"p":3,"a":44.3,"v":76,"g":"rt"},{"p":3,"a":44.2,"v":66,"g":"rc"},{"p":3,"a":44.6,"v":64,"g":"rt"},{"p":3,"a":45.1,"v":70,"g":"rt"},{"p":3,"a":44.8,"v":74,"g":"kt"},{"p":3,"a":42.7,"v":58,"g":"rc"},{"p":3,"a":42.5,"v":33,"g":"rc"},{"p":3,"a":42.9,"v":33,"g":"kc"},{"p":3,"a":43.0,"v":24,"g":"kt"},{"p":3,"a":40.6,"v":87,"g":"kc"},{"p":3,"a":40.6,"v":70,"g":"kc"},{"p":3,"a":41.2,"v":69,"g":"rt"},{"p":3,"a":40.3,"v":24.5,"g":"kc"},{"p":3,"a":40.1,"v":27,"g":"rt"},
{"p":3,"a":4.9,"v":20,"g":"kt"},{"p":3,"a":5.3,"v":20,"g":"kt"},{"p":3,"a":5.7,"v":20,"g":"kc"},{"p":3,"a":6.1,"v":20,"g":"kt"},{"p":3,"a":6.5,"v":20,"g":"kc"},{"p":3,"a":6.9,"v":20,"g":"kc"},{"p":3,"a":7.3,"v":20,"g":"kc"},{"p":3,"a":7.7,"v":20,"g":"kt"},{"p":3,"a":8.1,"v":20,"g":"kc"},{"p":3,"a":8.5,"v":20,"g":"kc"},{"p":3,"a":9.5,"v":20,"g":"kt"},{"p":3,"a":10.1,"v":20,"g":"kc"},{"p":3,"a":10.4,"v":20,"g":"kc"},{"p":3,"a":10.9,"v":20,"g":"kt"},{"p":3,"a":11.5,"v":20,"g":"kc"},{"p":3,"a":12.0,"v":20,"g":"kt"},{"p":3,"a":12.6,"v":20,"g":"kc"},{"p":3,"a":13.4,"v":20,"g":"kc"},{"p":3,"a":13.9,"v":20,"g":"kt"},{"p":3,"a":14.4,"v":20,"g":"kc"},{"p":3,"a":14.9,"v":20,"g":"kc"},{"p":3,"a":15.5,"v":20,"g":"kc"},{"p":3,"a":16.0,"v":20,"g":"kc"},{"p":3,"a":16.6,"v":20,"g":"kc"},{"p":3,"a":17.2,"v":20,"g":"kt"},{"p":3,"a":17.8,"v":20,"g":"kc"},{"p":3,"a":18.9,"v":20,"g":"kc"},{"p":3,"a":19.4,"v":20,"g":"kt"},{"p":3,"a":20.0,"v":20,"g":"kt"},{"p":3,"a":20.8,"v":20,"g":"kc"},{"p":3,"a":24.4,"v":20,"g":"kc"},{"p":3,"a":25.4,"v":20,"g":"kc"},{"p":3,"a":25.6,"v":20,"g":"kt"},{"p":3,"a":26.9,"v":20,"g":"kt"},{"p":3,"a":27.8,"v":20,"g":"kc"},{"p":3,"a":28.4,"v":20,"g":"kc"},{"p":3,"a":29.6,"v":20,"g":"kc"},{"p":3,"a":32.0,"v":20,"g":"kt"},{"p":3,"a":33.1,"v":20,"g":"kc"},{"p":3,"a":33.7,"v":20,"g":"kt"},{"p":3,"a":34.2,"v":20,"g":"kc"},{"p":3,"a":35.0,"v":20,"g":"kc"},{"p":3,"a":35.6,"v":20,"g":"kc"},{"p":3,"a":36.7,"v":20,"g":"kc"},{"p":3,"a":37.4,"v":20,"g":"kc"},{"p":3,"a":39.0,"v":20,"g":"kc"},{"p":3,"a":39.9,"v":20,"g":"kc"},{"p":3,"a":40.5,"v":20,"g":"kt"},{"p":3,"a":41.2,"v":20,"g":"kc"},{"p":3,"a":42.3,"v":20,"g":"kt"},{"p":3,"a":42.9,"v":20,"g":"kc"},{"p":3,"a":43.5,"v":20,"g":"kt"},{"p":3,"a":44.0,"v":20,"g":"kt"},{"p":3,"a":44.6,"v":20,"g":"kc"},{"p":3,"a":45.3,"v":20,"g":"kt"},{"p":3,"a":45.9,"v":20,"g":"kc"},{"p":3,"a":46.5,"v":20,"g":"kt"},{"p":3,"a":47.2,"v":20,"g":"kt"},{"p":3,"a":47.5,"v":20,"g":"kc"},{"p":3,"a":48.0,"v":20,"g":"kc"},{"p":3,"a":48.6,"v":20,"g":"kt"},{"p":3,"a":49.1,"v":20,"g":"kt"},{"p":3,"a":49.8,"v":20,"g":"kt"},{"p":3,"a":50.4,"v":20,"g":"kc"},{"p":3,"a":51.0,"v":20,"g":"kt"},{"p":3,"a":52.2,"v":20,"g":"kc"},{"p":3,"a":52.8,"v":20,"g":"kc"},{"p":3,"a":55.9,"v":20,"g":"kt"},{"p":3,"a":56.5,"v":20,"g":"kc"},{"p":3,"a":57.2,"v":20,"g":"kc"},{"p":3,"a":57.8,"v":20,"g":"kc"},{"p":3,"a":58.8,"v":20,"g":"kc"},{"p":3,"a":59.8,"v":20,"g":"kt"},{"p":3,"a":60.7,"v":20,"g":"kc"},{"p":3,"a":61.5,"v":20,"g":"kc"},{"p":3,"a":62.3,"v":20,"g":"kc"},{"p":3,"a":63.2,"v":20,"g":"kt"},{"p":3,"a":63.9,"v":20,"g":"kt"},{"p":3,"a":64.6,"v":20,"g":"kc"},{"p":3,"a":65.1,"v":20,"g":"kt"},{"p":3,"a":66.0,"v":20,"g":"kc"},{"p":3,"a":67.8,"v":20,"g":"kc"},{"p":3,"a":68.4,"v":20,"g":"kt"},{"p":3,"a":69.1,"v":20,"g":"kt"},{"p":3,"a":69.9,"v":20,"g":"kt"},{"p":3,"a":72.2,"v":20,"g":"kc"},{"p":3,"a":72.9,"v":20,"g":"kc"},{"p":3,"a":74.7,"v":20,"g":"kt"},{"p":3,"a":59.6,"v":20,"g":"rc"},{"p":3,"a":59.4,"v":20,"g":"rt"},
{"p":4,"a":28.9,"v":341,"g":"rc"},{"p":4,"a":31.9,"v":290,"g":"rc"},{"p":4,"a":18.5,"v":133,"g":"rt"},{"p":4,"a":14.5,"v":137,"g":"rc"},{"p":4,"a":25.5,"v":117,"g":"rt"},{"p":4,"a":12.9,"v":93,"g":"rc"},{"p":4,"a":11.8,"v":82,"g":"rt"},{"p":4,"a":30.9,"v":89,"g":"rt"},{"p":4,"a":37.8,"v":107,"g":"rt"},{"p":4,"a":38.3,"v":65,"g":"rt"},{"p":4,"a":9.2,"v":53,"g":"rt"},{"p":4,"a":9.8,"v":53,"g":"rt"},{"p":4,"a":11.6,"v":59,"g":"rt"},{"p":4,"a":13.5,"v":59,"g":"rt"},{"p":4,"a":14.0,"v":62,"g":"rc"},{"p":4,"a":14.0,"v":50,"g":"rc"},{"p":4,"a":15.0,"v":53,"g":"rt"},{"p":4,"a":14.2,"v":43,"g":"rt"},{"p":4,"a":16.7,"v":43,"g":"rc"},{"p":4,"a":23.2,"v":66,"g":"rc"},{"p":4,"a":25.0,"v":46,"g":"rt"},{"p":4,"a":27.9,"v":56,"g":"rt"},{"p":4,"a":34.6,"v":41,"g":"rc"},{"p":4,"a":5.7,"v":37,"g":"kt"},{"p":4,"a":9.3,"v":41,"g":"kt"},{"p":4,"a":11.8,"v":37,"g":"kt"},{"p":4,"a":12.5,"v":30,"g":"kc"},{"p":4,"a":14.9,"v":30,"g":"kt"},{"p":4,"a":14.9,"v":24.5,"g":"kt"},{"p":4,"a":16.5,"v":37,"g":"kt"},{"p":4,"a":20.9,"v":36,"g":"kc"},{"p":4,"a":23.6,"v":28,"g":"kt"},{"p":4,"a":9.5,"v":24.5,"g":"kt"},{"p":4,"a":13.4,"v":23,"g":"kt"},{"p":4,"a":33.0,"v":37,"g":"kc"},{"p":4,"a":36.3,"v":35,"g":"kc"},{"p":4,"a":36.8,"v":30,"g":"kt"},{"p":4,"a":37.5,"v":31,"g":"kc"},{"p":4,"a":39.7,"v":25,"g":"kt"},{"p":4,"a":39.9,"v":27,"g":"kc"},{"p":4,"a":38.5,"v":22,"g":"kc"},
{"p":4,"a":66.5,"v":532,"g":"rc"},{"p":4,"a":41.8,"v":275,"g":"rt"},{"p":4,"a":45.0,"v":238,"g":"rt"},{"p":4,"a":45.6,"v":203,"g":"rc"},{"p":4,"a":48.8,"v":246,"g":"rc"},{"p":4,"a":54.0,"v":148,"g":"rt"},{"p":4,"a":40.7,"v":143,"g":"rc"},{"p":4,"a":44.5,"v":130,"g":"rt"},{"p":4,"a":48.2,"v":138,"g":"rt"},{"p":4,"a":47.8,"v":122,"g":"rc"},{"p":4,"a":47.4,"v":109,"g":"rc"},{"p":4,"a":44.2,"v":99,"g":"rc"},{"p":4,"a":52.9,"v":107,"g":"rc"},{"p":4,"a":63.0,"v":106,"g":"rc"},{"p":4,"a":65.9,"v":110,"g":"rc"},{"p":4,"a":70.4,"v":106,"g":"rc"},{"p":4,"a":69.2,"v":85,"g":"rc"},{"p":4,"a":69.2,"v":68,"g":"rc"},{"p":4,"a":73.5,"v":77,"g":"rc"},{"p":4,"a":50.9,"v":94,"g":"rt"},{"p":4,"a":52.1,"v":81,"g":"rt"},{"p":4,"a":52.0,"v":72,"g":"rt"},{"p":4,"a":47.7,"v":84,"g":"rt"},{"p":4,"a":44.3,"v":76,"g":"rt"},{"p":4,"a":44.0,"v":60,"g":"rt"},{"p":4,"a":45.0,"v":61,"g":"rt"},{"p":4,"a":41.0,"v":73,"g":"rc"},{"p":4,"a":42.7,"v":61,"g":"rc"},{"p":4,"a":53.9,"v":65,"g":"rc"},{"p":4,"a":55.9,"v":56,"g":"rc"},{"p":4,"a":57.5,"v":84,"g":"rt"},{"p":4,"a":58.1,"v":75,"g":"rt"},{"p":4,"a":58.5,"v":67,"g":"rc"},{"p":4,"a":59.6,"v":58,"g":"rc"},{"p":4,"a":61.1,"v":64,"g":"rc"},{"p":4,"a":61.3,"v":52,"g":"rt"},{"p":4,"a":59.4,"v":48,"g":"rt"},{"p":4,"a":60.8,"v":44,"g":"rc"},{"p":4,"a":55.7,"v":41,"g":"rc"},{"p":4,"a":50.5,"v":50,"g":"rt"},{"p":4,"a":51.3,"v":50,"g":"rt"},{"p":4,"a":47.7,"v":57,"g":"rc"},{"p":4,"a":48.1,"v":46,"g":"rc"},{"p":4,"a":46.3,"v":42,"g":"rc"},{"p":4,"a":46.5,"v":43,"g":"rt"},{"p":4,"a":42.5,"v":44,"g":"rc"},{"p":4,"a":41.2,"v":44,"g":"rt"},{"p":4,"a":40.1,"v":54,"g":"rt"},{"p":4,"a":64.7,"v":46,"g":"rt"},{"p":4,"a":65.7,"v":50,"g":"rt"},{"p":4,"a":66.0,"v":55,"g":"rc"},{"p":4,"a":68.6,"v":50,"g":"rt"},{"p":4,"a":40.6,"v":36,"g":"kc"},{"p":4,"a":40.8,"v":28,"g":"kc"},{"p":4,"a":40.4,"v":26,"g":"kt"},{"p":4,"a":42.9,"v":40,"g":"kt"},{"p":4,"a":43.4,"v":37,"g":"kt"},{"p":4,"a":44.3,"v":37,"g":"kt"},{"p":4,"a":44.2,"v":33,"g":"kt"},{"p":4,"a":43.2,"v":29,"g":"kt"},{"p":4,"a":46.2,"v":32,"g":"kt"},{"p":4,"a":48.3,"v":34,"g":"kt"},{"p":4,"a":48.6,"v":29,"g":"kt"},{"p":4,"a":52.8,"v":37,"g":"kc"},{"p":4,"a":52.8,"v":35,"g":"kt"},{"p":4,"a":54.0,"v":27,"g":"kc"},{"p":4,"a":55.5,"v":31,"g":"kc"},{"p":4,"a":57.0,"v":37,"g":"kt"},{"p":4,"a":58.9,"v":23.5,"g":"kc"},{"p":4,"a":60.0,"v":24.5,"g":"kt"},{"p":4,"a":60.5,"v":38,"g":"kc"},{"p":4,"a":62.6,"v":37,"g":"kt"},{"p":4,"a":63.0,"v":30,"g":"kc"},{"p":4,"a":63.8,"v":32,"g":"kc"},{"p":4,"a":64.1,"v":25.5,"g":"kt"},{"p":4,"a":65.9,"v":40,"g":"kc"},{"p":4,"a":65.5,"v":32,"g":"kt"},{"p":4,"a":66.1,"v":30,"g":"kt"},{"p":4,"a":66.2,"v":25.5,"g":"kt"},{"p":4,"a":67.3,"v":38,"g":"kc"},{"p":4,"a":67.8,"v":36,"g":"kt"},{"p":4,"a":68.7,"v":36,"g":"kc"},{"p":4,"a":67.9,"v":28,"g":"kc"},{"p":4,"a":74.7,"v":26,"g":"kc"},{"p":4,"a":75.3,"v":37,"g":"kt"},
{"p":4,"a":4.8,"v":20,"g":"kt"},{"p":4,"a":5.2,"v":20,"g":"kc"},{"p":4,"a":5.6,"v":20,"g":"kt"},{"p":4,"a":6.0,"v":20,"g":"kc"},{"p":4,"a":6.4,"v":20,"g":"kt"},{"p":4,"a":6.8,"v":20,"g":"kc"},{"p":4,"a":7.2,"v":20,"g":"kc"},{"p":4,"a":7.6,"v":20,"g":"kt"},{"p":4,"a":8.0,"v":20,"g":"kc"},{"p":4,"a":8.4,"v":20,"g":"kc"},{"p":4,"a":8.8,"v":20,"g":"kc"},{"p":4,"a":9.5,"v":20,"g":"kc"},{"p":4,"a":10.1,"v":20,"g":"kt"},{"p":4,"a":10.7,"v":20,"g":"kc"},{"p":4,"a":11.2,"v":20,"g":"kt"},{"p":4,"a":11.7,"v":20,"g":"kc"},{"p":4,"a":12.2,"v":20,"g":"kt"},{"p":4,"a":12.7,"v":20,"g":"kc"},{"p":4,"a":13.2,"v":20,"g":"kt"},{"p":4,"a":13.7,"v":20,"g":"kc"},{"p":4,"a":14.2,"v":20,"g":"kt"},{"p":4,"a":14.7,"v":20,"g":"kc"},{"p":4,"a":15.5,"v":20,"g":"kc"},{"p":4,"a":16.1,"v":20,"g":"kt"},{"p":4,"a":16.7,"v":20,"g":"kc"},{"p":4,"a":17.3,"v":20,"g":"kt"},{"p":4,"a":17.9,"v":20,"g":"kc"},{"p":4,"a":18.6,"v":20,"g":"kc"},{"p":4,"a":19.3,"v":20,"g":"kt"},{"p":4,"a":20.0,"v":20,"g":"kt"},{"p":4,"a":20.7,"v":20,"g":"kc"},{"p":4,"a":22.9,"v":20,"g":"kc"},{"p":4,"a":23.8,"v":20,"g":"kt"},{"p":4,"a":24.4,"v":20,"g":"kc"},{"p":4,"a":25.4,"v":20,"g":"kc"},{"p":4,"a":26.2,"v":20,"g":"kt"},{"p":4,"a":27.0,"v":20,"g":"kt"},{"p":4,"a":27.9,"v":20,"g":"kc"},{"p":4,"a":28.6,"v":20,"g":"kc"},{"p":4,"a":29.6,"v":20,"g":"kt"},{"p":4,"a":30.7,"v":20,"g":"kc"},{"p":4,"a":31.3,"v":20,"g":"kc"},{"p":4,"a":32.1,"v":20,"g":"kt"},{"p":4,"a":33.2,"v":20,"g":"kc"},{"p":4,"a":33.9,"v":20,"g":"kt"},{"p":4,"a":34.5,"v":20,"g":"kc"},{"p":4,"a":35.2,"v":20,"g":"kc"},{"p":4,"a":35.8,"v":20,"g":"kt"},{"p":4,"a":36.6,"v":20,"g":"kc"},{"p":4,"a":37.3,"v":20,"g":"kc"},{"p":4,"a":38.3,"v":20,"g":"kc"},{"p":4,"a":39.2,"v":20,"g":"kc"},{"p":4,"a":39.9,"v":20,"g":"kc"},{"p":4,"a":40.5,"v":20,"g":"kt"},{"p":4,"a":41.1,"v":20,"g":"kc"},{"p":4,"a":42.2,"v":20,"g":"kt"},{"p":4,"a":42.9,"v":20,"g":"kc"},{"p":4,"a":43.6,"v":20,"g":"kt"},{"p":4,"a":44.2,"v":20,"g":"kt"},{"p":4,"a":44.9,"v":20,"g":"kc"},{"p":4,"a":45.6,"v":20,"g":"kt"},{"p":4,"a":46.3,"v":20,"g":"kc"},{"p":4,"a":46.9,"v":20,"g":"kt"},{"p":4,"a":47.6,"v":20,"g":"kc"},{"p":4,"a":48.3,"v":20,"g":"kt"},{"p":4,"a":48.9,"v":20,"g":"kc"},{"p":4,"a":49.9,"v":20,"g":"kt"},{"p":4,"a":50.6,"v":20,"g":"kc"},{"p":4,"a":51.3,"v":20,"g":"kt"},{"p":4,"a":52.0,"v":20,"g":"kc"},{"p":4,"a":52.7,"v":20,"g":"kt"},{"p":4,"a":55.0,"v":20,"g":"kt"},{"p":4,"a":55.9,"v":20,"g":"kt"},{"p":4,"a":56.6,"v":20,"g":"kc"},{"p":4,"a":57.3,"v":20,"g":"kc"},{"p":4,"a":58.1,"v":20,"g":"kc"},{"p":4,"a":60.2,"v":20,"g":"kc"},{"p":4,"a":61.0,"v":20,"g":"kc"},{"p":4,"a":61.8,"v":20,"g":"kc"},{"p":4,"a":62.5,"v":20,"g":"kc"},{"p":4,"a":63.2,"v":20,"g":"kc"},{"p":4,"a":63.9,"v":20,"g":"kt"},{"p":4,"a":64.6,"v":20,"g":"kc"},{"p":4,"a":65.3,"v":20,"g":"kc"},{"p":4,"a":66.0,"v":20,"g":"kc"},{"p":4,"a":67.6,"v":20,"g":"kc"},{"p":4,"a":68.3,"v":20,"g":"kt"},{"p":4,"a":68.9,"v":20,"g":"kt"},{"p":4,"a":69.6,"v":20,"g":"kc"},{"p":4,"a":70.8,"v":20,"g":"kc"},{"p":4,"a":71.5,"v":20,"g":"kt"},{"p":4,"a":72.2,"v":20,"g":"kc"},{"p":4,"a":72.9,"v":20,"g":"kt"},{"p":4,"a":73.6,"v":20,"g":"kc"},{"p":4,"a":74.4,"v":20,"g":"kt"},{"p":4,"a":75.1,"v":20,"g":"kc"}
],
"cur":[
{"p":1,"k":"m","a":5,"y":0.055},{"p":1,"k":"m","a":8.6,"y":0.107},{"p":1,"k":"m","a":13.2,"y":0.183},{"p":1,"k":"m","a":17.8,"y":0.236},{"p":1,"k":"m","a":20.1,"y":0.271},{"p":1,"k":"m","a":23.6,"y":0.304},{"p":1,"k":"m","a":24.7,"y":0.306},{"p":1,"k":"m","a":27.0,"y":0.291},{"p":1,"k":"m","a":30.5,"y":0.252},{"p":1,"k":"m","a":32.8,"y":0.213},{"p":1,"k":"m","a":34.9,"y":0.197},{"p":1,"k":"m","a":37.4,"y":0.225},{"p":1,"k":"m","a":38.7,"y":0.27},{"p":1,"k":"m","a":39.9,"y":0.325},{"p":1,"k":"m","a":41.1,"y":0.41},{"p":1,"k":"m","a":42.2,"y":0.504},{"p":1,"k":"m","a":43.4,"y":0.606},{"p":1,"k":"m","a":44.5,"y":0.709},{"p":1,"k":"m","a":45.7,"y":0.803},{"p":1,"k":"m","a":46.85,"y":0.874},{"p":1,"k":"m","a":49.15,"y":0.945},{"p":1,"k":"m","a":51.5,"y":0.98},{"p":1,"k":"m","a":53.8,"y":0.992},{"p":1,"k":"m","a":56,"y":0.997},{"p":1,"k":"m","a":60,"y":1.0},{"p":1,"k":"m","a":65,"y":1.0},{"p":1,"k":"m","a":70,"y":1.0},{"p":1,"k":"m","a":75.3,"y":1.0},
{"p":1,"k":"hi","a":5,"y":0.312},{"p":1,"k":"hi","a":8.6,"y":0.268},{"p":1,"k":"hi","a":10.9,"y":0.271},{"p":1,"k":"hi","a":14.3,"y":0.3},{"p":1,"k":"hi","a":17.8,"y":0.347},{"p":1,"k":"hi","a":21.3,"y":0.406},{"p":1,"k":"hi","a":23.6,"y":0.444},{"p":1,"k":"hi","a":25.9,"y":0.433},{"p":1,"k":"hi","a":29.3,"y":0.37},{"p":1,"k":"hi","a":32.8,"y":0.315},{"p":1,"k":"hi","a":35.1,"y":0.3},{"p":1,"k":"hi","a":37.4,"y":0.331},{"p":1,"k":"hi","a":39.9,"y":0.441},{"p":1,"k":"hi","a":41.3,"y":0.567},{"p":1,"k":"hi","a":42.9,"y":0.709},{"p":1,"k":"hi","a":44.5,"y":0.835},{"p":1,"k":"hi","a":46.2,"y":0.92},{"p":1,"k":"hi","a":48,"y":0.969},{"p":1,"k":"hi","a":50.3,"y":0.988},{"p":1,"k":"hi","a":52.6,"y":0.995},{"p":1,"k":"hi","a":56,"y":1.0},{"p":1,"k":"hi","a":65,"y":1.0},{"p":1,"k":"hi","a":75.3,"y":1.0},
{"p":1,"k":"lo","a":5,"y":0.008},{"p":1,"k":"lo","a":8.6,"y":0.016},{"p":1,"k":"lo","a":12,"y":0.071},{"p":1,"k":"lo","a":15.5,"y":0.118},{"p":1,"k":"lo","a":20.1,"y":0.158},{"p":1,"k":"lo","a":23.6,"y":0.189},{"p":1,"k":"lo","a":25.9,"y":0.197},{"p":1,"k":"lo","a":28.2,"y":0.186},{"p":1,"k":"lo","a":31.6,"y":0.145},{"p":1,"k":"lo","a":33.9,"y":0.126},{"p":1,"k":"lo","a":36.2,"y":0.134},{"p":1,"k":"lo","a":38.5,"y":0.19},{"p":1,"k":"lo","a":39.9,"y":0.25},{"p":1,"k":"lo","a":41.3,"y":0.339},{"p":1,"k":"lo","a":42.7,"y":0.457},{"p":1,"k":"lo","a":44.5,"y":0.606},{"p":1,"k":"lo","a":46.85,"y":0.756},{"p":1,"k":"lo","a":49.15,"y":0.827},{"p":1,"k":"lo","a":51.5,"y":0.87},{"p":1,"k":"lo","a":53.8,"y":0.888},{"p":1,"k":"lo","a":56.1,"y":0.895},{"p":1,"k":"lo","a":58.4,"y":0.89},{"p":1,"k":"lo","a":60.7,"y":0.879},{"p":1,"k":"lo","a":63,"y":0.859},{"p":1,"k":"lo","a":65.3,"y":0.827},{"p":1,"k":"lo","a":67.6,"y":0.78},{"p":1,"k":"lo","a":69.9,"y":0.725},{"p":1,"k":"lo","a":72.2,"y":0.646},{"p":1,"k":"lo","a":74.05,"y":0.536},{"p":1,"k":"lo","a":75.3,"y":0.441},
{"p":2,"k":"m","a":5,"y":0.764},{"p":2,"k":"m","a":8.6,"y":0.821},{"p":2,"k":"m","a":12,"y":0.86},{"p":2,"k":"m","a":15.5,"y":0.876},{"p":2,"k":"m","a":19,"y":0.871},{"p":2,"k":"m","a":22.4,"y":0.851},{"p":2,"k":"m","a":27,"y":0.816},{"p":2,"k":"m","a":31.6,"y":0.781},{"p":2,"k":"m","a":36.2,"y":0.767},{"p":2,"k":"m","a":40,"y":0.765},{"p":2,"k":"m","a":46.85,"y":0.761},{"p":2,"k":"m","a":53.8,"y":0.77},{"p":2,"k":"m","a":60.7,"y":0.792},{"p":2,"k":"m","a":67.6,"y":0.84},{"p":2,"k":"m","a":75.3,"y":0.898},
{"p":2,"k":"hi","a":5,"y":0.914},{"p":2,"k":"hi","a":10.9,"y":0.931},{"p":2,"k":"hi","a":15.5,"y":0.94},{"p":2,"k":"hi","a":19,"y":0.939},{"p":2,"k":"hi","a":22.4,"y":0.922},{"p":2,"k":"hi","a":27,"y":0.887},{"p":2,"k":"hi","a":31.6,"y":0.855},{"p":2,"k":"hi","a":36.2,"y":0.844},{"p":2,"k":"hi","a":40,"y":0.84},{"p":2,"k":"hi","a":46.85,"y":0.832},{"p":2,"k":"hi","a":53.8,"y":0.855},{"p":2,"k":"hi","a":60.7,"y":0.879},{"p":2,"k":"hi","a":65.3,"y":0.911},{"p":2,"k":"hi","a":69.9,"y":0.947},{"p":2,"k":"hi","a":75.3,"y":0.981},
{"p":2,"k":"lo","a":5,"y":0.493},{"p":2,"k":"lo","a":7.4,"y":0.588},{"p":2,"k":"lo","a":9.7,"y":0.682},{"p":2,"k":"lo","a":12.7,"y":0.756},{"p":2,"k":"lo","a":15.5,"y":0.769},{"p":2,"k":"lo","a":19,"y":0.764},{"p":2,"k":"lo","a":23.6,"y":0.725},{"p":2,"k":"lo","a":27,"y":0.693},{"p":2,"k":"lo","a":31.6,"y":0.669},{"p":2,"k":"lo","a":36.2,"y":0.666},{"p":2,"k":"lo","a":40,"y":0.672},{"p":2,"k":"lo","a":46.85,"y":0.663},{"p":2,"k":"lo","a":53.8,"y":0.663},{"p":2,"k":"lo","a":60.7,"y":0.69},{"p":2,"k":"lo","a":65.3,"y":0.703},{"p":2,"k":"lo","a":67.6,"y":0.698},{"p":2,"k":"lo","a":69.9,"y":0.679},{"p":2,"k":"lo","a":72.2,"y":0.635},{"p":2,"k":"lo","a":75.3,"y":0.595},
{"p":3,"k":"m","a":5,"y":0.273},{"p":3,"k":"m","a":8.6,"y":0.312},{"p":3,"k":"m","a":13.2,"y":0.367},{"p":3,"k":"m","a":17.8,"y":0.422},{"p":3,"k":"m","a":22.4,"y":0.485},{"p":3,"k":"m","a":27,"y":0.532},{"p":3,"k":"m","a":31.6,"y":0.569},{"p":3,"k":"m","a":36.2,"y":0.595},{"p":3,"k":"m","a":40,"y":0.612},{"p":3,"k":"m","a":44.5,"y":0.627},{"p":3,"k":"m","a":49.2,"y":0.63},{"p":3,"k":"m","a":53.8,"y":0.63},{"p":3,"k":"m","a":58.4,"y":0.632},{"p":3,"k":"m","a":61.8,"y":0.644},{"p":3,"k":"m","a":65.3,"y":0.674},{"p":3,"k":"m","a":69.9,"y":0.729},{"p":3,"k":"m","a":75.3,"y":0.789},
{"p":3,"k":"hi","a":5,"y":0.52},{"p":3,"k":"hi","a":6.7,"y":0.493},{"p":3,"k":"hi","a":9.7,"y":0.477},{"p":3,"k":"hi","a":13.2,"y":0.501},{"p":3,"k":"hi","a":17.8,"y":0.556},{"p":3,"k":"hi","a":22.4,"y":0.611},{"p":3,"k":"hi","a":27,"y":0.651},{"p":3,"k":"hi","a":31.6,"y":0.679},{"p":3,"k":"hi","a":36.2,"y":0.695},{"p":3,"k":"hi","a":40,"y":0.704},{"p":3,"k":"hi","a":44.5,"y":0.714},{"p":3,"k":"hi","a":49.2,"y":0.729},{"p":3,"k":"hi","a":53.8,"y":0.732},{"p":3,"k":"hi","a":58.4,"y":0.737},{"p":3,"k":"hi","a":61.8,"y":0.753},{"p":3,"k":"hi","a":65.3,"y":0.792},{"p":3,"k":"hi","a":69.9,"y":0.859},{"p":3,"k":"hi","a":75.3,"y":0.939},
{"p":3,"k":"lo","a":5,"y":0.115},{"p":3,"k":"lo","a":8.6,"y":0.17},{"p":3,"k":"lo","a":13.2,"y":0.254},{"p":3,"k":"lo","a":17.8,"y":0.304},{"p":3,"k":"lo","a":22.4,"y":0.351},{"p":3,"k":"lo","a":27,"y":0.399},{"p":3,"k":"lo","a":31.6,"y":0.441},{"p":3,"k":"lo","a":36.2,"y":0.48},{"p":3,"k":"lo","a":40,"y":0.512},{"p":3,"k":"lo","a":44.5,"y":0.525},{"p":3,"k":"lo","a":49.2,"y":0.517},{"p":3,"k":"lo","a":53.8,"y":0.509},{"p":3,"k":"lo","a":58.4,"y":0.506},{"p":3,"k":"lo","a":63,"y":0.528},{"p":3,"k":"lo","a":67.6,"y":0.548},{"p":3,"k":"lo","a":69.9,"y":0.545},{"p":3,"k":"lo","a":72.9,"y":0.517},{"p":3,"k":"lo","a":75.3,"y":0.48},
{"p":4,"k":"m","a":5,"y":0.087},{"p":4,"k":"m","a":8.6,"y":0.115},{"p":4,"k":"m","a":13.2,"y":0.162},{"p":4,"k":"m","a":17.8,"y":0.21},{"p":4,"k":"m","a":22.4,"y":0.244},{"p":4,"k":"m","a":27,"y":0.265},{"p":4,"k":"m","a":31.6,"y":0.291},{"p":4,"k":"m","a":35.1,"y":0.343},{"p":4,"k":"m","a":37.4,"y":0.399},{"p":4,"k":"m","a":40,"y":0.45},{"p":4,"k":"m","a":42.2,"y":0.493},{"p":4,"k":"m","a":44.5,"y":0.536},{"p":4,"k":"m","a":46.85,"y":0.564},{"p":4,"k":"m","a":49.15,"y":0.58},{"p":4,"k":"m","a":51.5,"y":0.584},{"p":4,"k":"m","a":53.8,"y":0.58},{"p":4,"k":"m","a":56.1,"y":0.564},{"p":4,"k":"m","a":58.4,"y":0.532},{"p":4,"k":"m","a":60.7,"y":0.493},{"p":4,"k":"m","a":63,"y":0.438},{"p":4,"k":"m","a":65.3,"y":0.37},{"p":4,"k":"m","a":67.6,"y":0.312},{"p":4,"k":"m","a":69.9,"y":0.257},{"p":4,"k":"m","a":72.2,"y":0.21},{"p":4,"k":"m","a":75.3,"y":0.165},
{"p":4,"k":"hi","a":5,"y":0.362},{"p":4,"k":"hi","a":7.4,"y":0.328},{"p":4,"k":"hi","a":10.9,"y":0.304},{"p":4,"k":"hi","a":14.3,"y":0.317},{"p":4,"k":"hi","a":17.8,"y":0.336},{"p":4,"k":"hi","a":22.4,"y":0.375},{"p":4,"k":"hi","a":27,"y":0.402},{"p":4,"k":"hi","a":31.6,"y":0.422},{"p":4,"k":"hi","a":35.1,"y":0.462},{"p":4,"k":"hi","a":37.4,"y":0.501},{"p":4,"k":"hi","a":40,"y":0.55},{"p":4,"k":"hi","a":42.2,"y":0.588},{"p":4,"k":"hi","a":44.5,"y":0.627},{"p":4,"k":"hi","a":46.85,"y":0.663},{"p":4,"k":"hi","a":49.15,"y":0.682},{"p":4,"k":"hi","a":51.5,"y":0.687},{"p":4,"k":"hi","a":53.8,"y":0.682},{"p":4,"k":"hi","a":56.1,"y":0.663},{"p":4,"k":"hi","a":58.4,"y":0.627},{"p":4,"k":"hi","a":60.7,"y":0.588},{"p":4,"k":"hi","a":63,"y":0.54},{"p":4,"k":"hi","a":65.3,"y":0.493},{"p":4,"k":"hi","a":67.6,"y":0.457},{"p":4,"k":"hi","a":69.9,"y":0.438},{"p":4,"k":"hi","a":72.2,"y":0.441},{"p":4,"k":"hi","a":75.3,"y":0.458},
{"p":4,"k":"lo","a":5,"y":0.013},{"p":4,"k":"lo","a":8.6,"y":0.033},{"p":4,"k":"lo","a":13.2,"y":0.076},{"p":4,"k":"lo","a":17.8,"y":0.102},{"p":4,"k":"lo","a":22.4,"y":0.142},{"p":4,"k":"lo","a":27,"y":0.158},{"p":4,"k":"lo","a":31.6,"y":0.191},{"p":4,"k":"lo","a":35.1,"y":0.241},{"p":4,"k":"lo","a":37.4,"y":0.304},{"p":4,"k":"lo","a":40,"y":0.355},{"p":4,"k":"lo","a":42.2,"y":0.391},{"p":4,"k":"lo","a":44.5,"y":0.433},{"p":4,"k":"lo","a":46.85,"y":0.462},{"p":4,"k":"lo","a":49.15,"y":0.473},{"p":4,"k":"lo","a":51.5,"y":0.473},{"p":4,"k":"lo","a":53.8,"y":0.462},{"p":4,"k":"lo","a":56.1,"y":0.438},{"p":4,"k":"lo","a":58.4,"y":0.406},{"p":4,"k":"lo","a":60.7,"y":0.359},{"p":4,"k":"lo","a":63,"y":0.304},{"p":4,"k":"lo","a":65.3,"y":0.244},{"p":4,"k":"lo","a":67.6,"y":0.186},{"p":4,"k":"lo","a":69.9,"y":0.123},{"p":4,"k":"lo","a":72.2,"y":0.076},{"p":4,"k":"lo","a":75.3,"y":0.044}
]
},
"vconcat":[
{"width":1040,"height":263,
 "layer":[
  {"data":{"name":"pts"},"transform":[{"filter":"datum.p==1"}],
   "mark":{"type":"point","filled":true,"fillOpacity":0.72,"strokeOpacity":0.8,"strokeWidth":1.4,"size":72},
   "encoding":{
    "x":{"field":"a","type":"quantitative","scale":{"domain":[4.03,75.97],"nice":false,"zero":false},"axis":null},
    "y":{"field":"v","type":"quantitative","scale":{"type":"log","domain":[18.35,5630],"nice":false},"axis":{"orient":"left","values":[20,80,320,1280],"format":"d","labelFontSize":30,"labelPadding":13,"title":"H2N2 (1957)","titleFontSize":33,"titleAngle":270,"titleX":-110,"titleY":165,"titleAlign":"center","titleBaseline":"alphabetic"}},
    "color":{"field":"g","type":"nominal","scale":{"domain":["kc","kt","rc","rt"],"range":["#000000","#000000","#ff0000","#ff0000"]},"legend":null},
    "stroke":{"field":"g","type":"nominal","scale":{"domain":["kc","kt","rc","rt"],"range":["#000000","rgba(0,0,0,0)","#ff0000","rgba(0,0,0,0)"]},"legend":null},
    "shape":{"field":"g","type":"nominal","scale":{"domain":["kc","kt","rc","rt"],"range":["circle","M0,-1.64L1.42,0.82L-1.42,0.82Z","circle","M0,-1.64L1.42,0.82L-1.42,0.82Z"]},"legend":null}
   }},
  {"data":{"name":"cur"},"transform":[{"filter":"datum.p==1"}],
   "mark":{"type":"line","color":"#0000ff","strokeWidth":2.2,"interpolate":"monotone"},
   "encoding":{
    "x":{"field":"a","type":"quantitative","scale":{"domain":[4.03,75.97],"nice":false,"zero":false},"axis":null},
    "y":{"field":"y","type":"quantitative","scale":{"domain":[-0.0175,1.225],"nice":false,"zero":false},"axis":{"orient":"right","values":[0,0.25,0.5,0.75,1],"format":"~g","labelColor":"#0000ff","labelFontSize":25,"labelPadding":12,"title":null}},
    "strokeDash":{"field":"k","type":"nominal","scale":{"domain":["m","lo","hi"],"range":[[1,0],[10,6],[10,6]]},"legend":null}
   }}
 ],
 "resolve":{"scale":{"y":"independent"}}
},
{"width":1040,"height":263,
 "layer":[
  {"data":{"name":"pts"},"transform":[{"filter":"datum.p==2"}],
   "mark":{"type":"point","filled":true,"fillOpacity":0.72,"strokeOpacity":0.8,"strokeWidth":1.4,"size":72},
   "encoding":{
    "x":{"field":"a","type":"quantitative","scale":{"domain":[4.03,75.97],"nice":false,"zero":false},"axis":null},
    "y":{"field":"v","type":"quantitative","scale":{"type":"log","domain":[18.35,5630],"nice":false},"axis":{"orient":"left","values":[20,80,320,1280],"format":"d","labelFontSize":30,"labelPadding":13,"title":"H1N1 (2007)","titleFontSize":33,"titleAngle":270,"titleX":-110,"titleY":165,"titleAlign":"center","titleBaseline":"alphabetic"}},
    "color":{"field":"g","type":"nominal","scale":{"domain":["kc","kt","rc","rt"],"range":["#000000","#000000","#ff0000","#ff0000"]},"legend":null},
    "stroke":{"field":"g","type":"nominal","scale":{"domain":["kc","kt","rc","rt"],"range":["#000000","rgba(0,0,0,0)","#ff0000","rgba(0,0,0,0)"]},"legend":null},
    "shape":{"field":"g","type":"nominal","scale":{"domain":["kc","kt","rc","rt"],"range":["circle","M0,-1.64L1.42,0.82L-1.42,0.82Z","circle","M0,-1.64L1.42,0.82L-1.42,0.82Z"]},"legend":null}
   }},
  {"data":{"name":"cur"},"transform":[{"filter":"datum.p==2"}],
   "mark":{"type":"line","color":"#0000ff","strokeWidth":2.2,"interpolate":"monotone"},
   "encoding":{
    "x":{"field":"a","type":"quantitative","scale":{"domain":[4.03,75.97],"nice":false,"zero":false},"axis":null},
    "y":{"field":"y","type":"quantitative","scale":{"domain":[-0.0175,1.225],"nice":false,"zero":false},"axis":{"orient":"right","values":[0,0.25,0.5,0.75,1],"format":"~g","labelColor":"#0000ff","labelFontSize":25,"labelPadding":12,"title":"Prevalence","titleFontSize":62,"titleAngle":270,"titleX":127,"titleY":280,"titleAlign":"center","titleBaseline":"alphabetic"}},
    "strokeDash":{"field":"k","type":"nominal","scale":{"domain":["m","lo","hi"],"range":[[1,0],[10,6],[10,6]]},"legend":null}
   }}
 ],
 "resolve":{"scale":{"y":"independent"}}
},
{"width":1040,"height":263,
 "layer":[
  {"data":{"name":"pts"},"transform":[{"filter":"datum.p==3"}],
   "mark":{"type":"point","filled":true,"fillOpacity":0.72,"strokeOpacity":0.8,"strokeWidth":1.4,"size":72},
   "encoding":{
    "x":{"field":"a","type":"quantitative","scale":{"domain":[4.03,75.97],"nice":false,"zero":false},"axis":null},
    "y":{"field":"v","type":"quantitative","scale":{"type":"log","domain":[18.35,5630],"nice":false},"axis":{"orient":"left","values":[20,80,320,1280],"format":"d","labelFontSize":30,"labelPadding":13,"title":"H1N1 (2009)","titleFontSize":33,"titleAngle":270,"titleX":-110,"titleY":165,"titleAlign":"center","titleBaseline":"alphabetic"}},
    "color":{"field":"g","type":"nominal","scale":{"domain":["kc","kt","rc","rt"],"range":["#000000","#000000","#ff0000","#ff0000"]},"legend":null},
    "stroke":{"field":"g","type":"nominal","scale":{"domain":["kc","kt","rc","rt"],"range":["#000000","rgba(0,0,0,0)","#ff0000","rgba(0,0,0,0)"]},"legend":null},
    "shape":{"field":"g","type":"nominal","scale":{"domain":["kc","kt","rc","rt"],"range":["circle","M0,-1.64L1.42,0.82L-1.42,0.82Z","circle","M0,-1.64L1.42,0.82L-1.42,0.82Z"]},"legend":null}
   }},
  {"data":{"name":"cur"},"transform":[{"filter":"datum.p==3"}],
   "mark":{"type":"line","color":"#0000ff","strokeWidth":2.2,"interpolate":"monotone"},
   "encoding":{
    "x":{"field":"a","type":"quantitative","scale":{"domain":[4.03,75.97],"nice":false,"zero":false},"axis":null},
    "y":{"field":"y","type":"quantitative","scale":{"domain":[-0.0175,1.225],"nice":false,"zero":false},"axis":{"orient":"right","values":[0,0.25,0.5,0.75,1],"format":"~g","labelColor":"#0000ff","labelFontSize":25,"labelPadding":12,"title":null}},
    "strokeDash":{"field":"k","type":"nominal","scale":{"domain":["m","lo","hi"],"range":[[1,0],[10,6],[10,6]]},"legend":null}
   }}
 ],
 "resolve":{"scale":{"y":"independent"}}
},
{"width":1040,"height":263,
 "layer":[
  {"data":{"name":"pts"},"transform":[{"filter":"datum.p==4"}],
   "mark":{"type":"point","filled":true,"fillOpacity":0.72,"strokeOpacity":0.8,"strokeWidth":1.4,"size":72},
   "encoding":{
    "x":{"field":"a","type":"quantitative","scale":{"domain":[4.03,75.97],"nice":false,"zero":false},"axis":{"orient":"bottom","values":[5,10,15,20,25,30,35,40,45,50,55,60,65,70,75],"format":"d","labelFontSize":31,"labelPadding":10,"tickSize":12,"title":"Age in years (2009)","titleFontSize":46,"titleY":97,"titleBaseline":"alphabetic"}},
    "y":{"field":"v","type":"quantitative","scale":{"type":"log","domain":[18.35,5630],"nice":false},"axis":{"orient":"left","values":[20,80,320,1280],"format":"d","labelFontSize":30,"labelPadding":13,"title":"H9N2","titleFontSize":33,"titleAngle":270,"titleX":-110,"titleY":165,"titleAlign":"center","titleBaseline":"alphabetic"}},
    "color":{"field":"g","type":"nominal","scale":{"domain":["kc","kt","rc","rt"],"range":["#000000","#000000","#ff0000","#ff0000"]},"legend":null},
    "stroke":{"field":"g","type":"nominal","scale":{"domain":["kc","kt","rc","rt"],"range":["#000000","rgba(0,0,0,0)","#ff0000","rgba(0,0,0,0)"]},"legend":null},
    "shape":{"field":"g","type":"nominal","scale":{"domain":["kc","kt","rc","rt"],"range":["circle","M0,-1.64L1.42,0.82L-1.42,0.82Z","circle","M0,-1.64L1.42,0.82L-1.42,0.82Z"]},"legend":null}
   }},
  {"data":{"name":"cur"},"transform":[{"filter":"datum.p==4"}],
   "mark":{"type":"line","color":"#0000ff","strokeWidth":2.2,"interpolate":"monotone"},
   "encoding":{
    "x":{"field":"a","type":"quantitative","scale":{"domain":[4.03,75.97],"nice":false,"zero":false},"axis":{"orient":"bottom","offset":138,"values":[5,10,15,20,25,30,35,40,45,50,55,60,65,70,75],"labelExpr":"datum.value % 10 == 5 ? toString(2009 - datum.value) : ''","domain":true,"domainColor":"black","domainWidth":1.5,"labelFontSize":31,"labelPadding":5,"tickSize":13,"title":"Year of birth","titleFontSize":44,"titleY":88,"titleBaseline":"alphabetic"}},
    "y":{"field":"y","type":"quantitative","scale":{"domain":[-0.0175,1.225],"nice":false,"zero":false},"axis":{"orient":"right","values":[0,0.25,0.5,0.75,1],"format":"~g","labelColor":"#0000ff","labelFontSize":25,"labelPadding":12,"title":null}},
    "strokeDash":{"field":"k","type":"nominal","scale":{"domain":["m","lo","hi"],"range":[[1,0],[10,6],[10,6]]},"legend":null}
   }}
 ],
 "resolve":{"scale":{"y":"independent"},"axis":{"x":"independent"}}
}
]
}
